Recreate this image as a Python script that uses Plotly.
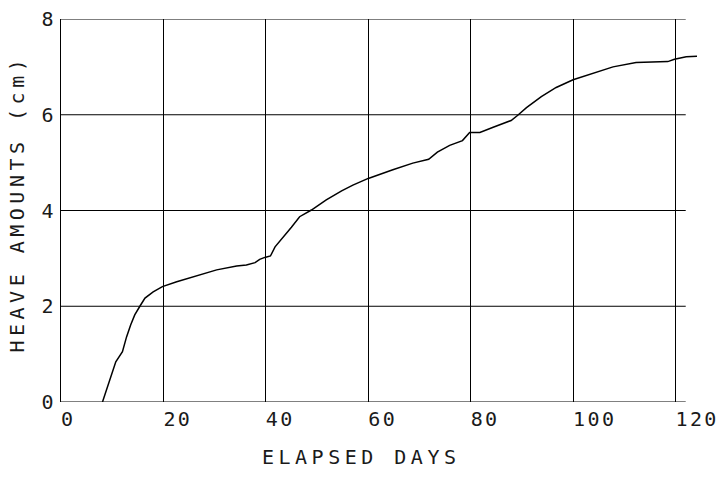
import plotly.graph_objects as go

# Elapsed days and heave amounts (cm)
days = [8.1, 9.6, 10.7, 12.0, 12.8, 13.6, 14.4, 15.4, 16.4, 18.0, 19.8, 22.6, 26.5,
        30.4, 34.3, 36.2, 37.9, 38.8, 39.8, 40.9, 41.8, 43.4, 45.0, 46.6, 48.9,
        51.8, 54.8, 57.0, 60.0, 64.8, 68.7, 71.8, 73.5, 75.9, 78.4, 79.8, 81.8,
        84.4, 87.9, 89.2, 90.9, 93.8, 96.7, 100.0, 103.9, 107.8, 112.3, 118.5,
        119.8, 122.1, 124.2]
heave = [0.0, 0.49, 0.84, 1.05, 1.36, 1.61, 1.82, 2.0, 2.17, 2.30, 2.41, 2.51, 2.63,
         2.76, 2.84, 2.86, 2.91, 2.98, 3.02, 3.05, 3.24, 3.44, 3.65, 3.87, 4.01,
         4.22, 4.41, 4.53, 4.67, 4.85, 4.99, 5.07, 5.22, 5.36, 5.46, 5.63, 5.63,
         5.74, 5.88, 5.99, 6.15, 6.38, 6.57, 6.73, 6.87, 7.00, 7.09, 7.11,
         7.16, 7.21, 7.22]

x_ticks = [0, 20, 40, 60, 80, 100, 120]
y_ticks = [0, 2, 4, 6, 8]
x_title = "ELAPSED DAYS"
y_title = "HEAVE AMOUNTS (cm)"
grid_end = 122  # horizontal grid lines stop a little past the last tick

FONT = "DejaVu Sans Mono"
INK = "#1a1a1a"

fig = go.Figure()
fig.add_trace(go.Scatter(x=days, y=heave, mode="lines",
                         line=dict(color="#000000", width=1.5),
                         showlegend=False, hoverinfo="skip"))

for yv in y_ticks:
    fig.add_shape(type="line", xref="x", yref="y", x0=0, x1=grid_end, y0=yv, y1=yv,
                  line=dict(color="#000000", width=1), layer="below")

fig.update_layout(
    width=719, height=479,
    margin=dict(l=61, r=22, t=19, b=77, autoexpand=False),
    paper_bgcolor="white", plot_bgcolor="white",
    font=dict(family=FONT, color=INK, size=20),
    xaxis=dict(range=[0, 124.2], tickvals=x_ticks, ticktext=[str(v) for v in x_ticks],
               showgrid=True, gridcolor="#000000", gridwidth=1,
               zeroline=False, showline=False, ticks="", automargin=False,
               ticklabelstandoff=3,
               tickfont=dict(family=FONT, size=20, color=INK)),
    yaxis=dict(range=[0, 8], tickvals=y_ticks, ticktext=[str(v) for v in y_ticks],
               showgrid=False,
               zeroline=False, showline=True, linecolor="#000000", linewidth=1,
               ticks="", automargin=False, ticklabelstandoff=0,
               tickfont=dict(family=FONT, size=20, color=INK)),
    annotations=[
        dict(text=x_title, xref="paper", yref="paper", x=(361 - 61) / 636,
             y=0, xanchor="center", yanchor="top", yshift=-41, showarrow=False,
             font=dict(family=FONT, size=20, color=INK)),
        dict(text=y_title, xref="paper", yref="paper", x=0, xshift=-44,
             y=(402 - 204) / 383, xanchor="center", yanchor="middle", textangle=-90,
             showarrow=False, font=dict(family=FONT, size=20, color=INK)),
    ],
)

css = (
    "document.body.style.margin='0';"
    "var s=document.createElement('style');"
    "s.textContent='body{margin:0} .xtick text,.ytick text{letter-spacing:2.4px}"
    " .xtick text{text-anchor:start}"
    " .annotation-text{letter-spacing:4.5px}';"
    "document.head.appendChild(s);"
)
fig.write_html("out.html", post_script=css, config={"displayModeBar": False})
